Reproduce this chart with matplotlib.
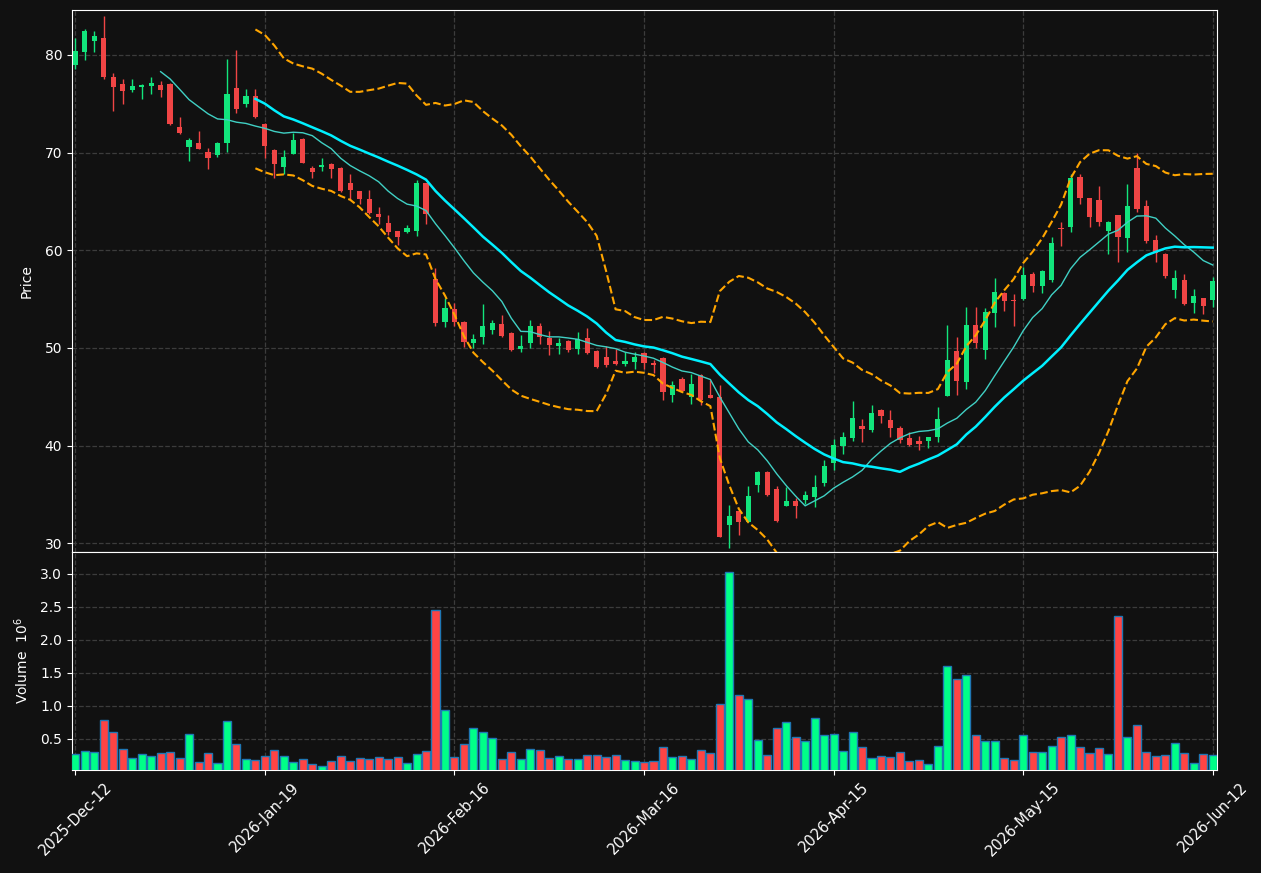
import matplotlib
matplotlib.use("Agg")
import matplotlib.pyplot as plt
import numpy as np
import pandas as pd

# daily candles, 121 sessions
opens = [79.0, 80.27, 81.47, 81.77, 77.78, 77.06, 76.45, 76.69, 76.86, 76.96,
         77.06, 72.66, 70.55, 71.02, 70.1, 69.8, 70.96, 76.66, 74.95, 75.75,
         72.96, 70.31, 68.57, 69.9, 71.43, 68.44, 68.57, 68.81, 68.47, 66.84,
         66.02, 65.2, 63.67, 62.76, 61.94, 61.84, 61.94, 66.84, 57.04, 52.7,
         53.99, 52.7, 50.55, 51.09, 51.86, 52.49, 51.57, 49.93, 50.48, 52.29,
         50.99, 50.24, 50.75, 49.93, 51.06, 49.73, 49.11, 48.7, 48.4, 48.53,
         49.52, 48.5, 49.0, 45.21, 46.85, 44.94, 47.26, 45.18, 44.97, 31.91,
         33.3, 32.22, 35.91, 37.32, 35.57, 33.86, 34.34, 34.38, 34.75, 36.12,
         38.17, 39.98, 40.8, 42.0, 41.59, 43.63, 42.61, 41.79, 40.77, 40.46,
         40.46, 40.87, 45.1, 49.68, 46.5, 52.35, 49.78, 53.61, 55.63, 54.91,
         54.97, 57.59, 56.29, 57.0, 62.24, 62.41, 67.48, 65.34, 65.14, 62.0,
         63.6, 61.29, 68.4, 64.52, 61.05, 59.63, 55.88, 56.97, 54.56, 55.07,
         54.86]
highs = [81.7, 82.7, 82.5, 84.03, 78.16, 77.58, 77.58, 77.06, 77.78, 77.37,
         77.1, 73.69, 71.5, 72.25, 70.48, 71.1, 79.62, 80.55, 76.55, 76.5,
         73.0, 70.4, 70.27, 72.0, 71.5, 68.64, 69.46, 68.9, 68.5, 67.76,
         66.1, 66.19, 64.39, 63.57, 62.0, 62.6, 67.24, 66.9, 58.23, 55.12,
         54.6, 52.75, 51.47, 54.54, 52.9, 53.41, 51.6, 51.33, 52.87, 52.59,
         51.77, 51.02, 50.8, 51.64, 52.05, 49.8, 50.24, 49.9, 49.59, 49.59,
         49.6, 48.77, 49.05, 46.62, 47.03, 47.33, 47.3, 46.75, 46.2, 33.9,
         33.35, 35.88, 37.4, 37.4, 35.81, 35.71, 34.58, 35.3, 37.0, 38.5,
         40.63, 41.38, 44.52, 42.71, 44.15, 43.7, 43.63, 42.0, 41.41, 40.97,
         40.9, 43.91, 52.35, 51.12, 54.16, 54.16, 54.06, 57.13, 55.7, 55.52,
         58.33, 57.82, 57.95, 61.33, 62.86, 67.86, 67.86, 65.4, 66.63, 62.95,
         63.65, 66.77, 70.0, 65.1, 61.53, 59.7, 57.99, 57.59, 56.02, 55.14,
         57.31]
lows = [78.6, 79.5, 80.27, 77.5, 74.23, 74.98, 76.2, 75.46, 76.0, 75.7,
        72.87, 71.9, 69.11, 70.35, 68.29, 69.52, 70.03, 74.03, 74.64, 73.5,
        69.42, 67.38, 67.82, 69.85, 68.9, 67.41, 68.1, 67.41, 65.95, 65.17,
        64.76, 63.75, 62.72, 61.56, 60.58, 61.8, 61.43, 62.72, 52.28, 52.13,
        52.29, 50.1, 50.0, 50.44, 51.43, 51.15, 49.7, 49.56, 50.0, 50.41,
        49.25, 49.35, 49.56, 49.35, 49.35, 47.95, 48.02, 48.2, 48.12, 47.85,
        47.85, 47.44, 44.63, 44.43, 45.55, 44.26, 44.12, 44.85, 30.6, 29.49,
        30.79, 32.15, 35.2, 34.8, 32.19, 33.76, 32.56, 34.03, 33.69, 35.81,
        37.49, 39.09, 40.49, 40.39, 41.41, 42.34, 40.83, 40.22, 40.0, 39.54,
        39.78, 40.32, 45.05, 45.21, 45.82, 50.02, 48.9, 52.11, 53.82, 52.28,
        54.9, 55.71, 55.61, 56.77, 60.44, 61.84, 64.73, 62.35, 62.52, 59.59,
        58.78, 59.86, 63.95, 60.71, 58.84, 57.21, 55.1, 54.4, 53.57, 53.47,
        54.2]
closes = [80.44, 82.49, 81.98, 77.71, 76.69, 76.28, 76.86, 76.96, 77.1, 76.38,
          72.97, 71.98, 71.33, 70.41, 69.49, 71.02, 76.04, 74.44, 75.84, 73.65,
          70.65, 68.81, 69.59, 71.33, 68.95, 68.06, 68.78, 68.37, 66.02, 66.22,
          65.2, 63.81, 63.37, 61.84, 61.36, 62.25, 66.84, 63.71, 52.59, 54.1,
          52.63, 50.58, 50.96, 52.29, 52.59, 51.19, 49.76, 50.24, 52.29, 51.09,
          50.34, 50.55, 49.83, 50.92, 49.52, 48.02, 48.29, 48.4, 48.7, 49.02,
          48.5, 48.22, 45.45, 46.2, 45.59, 46.34, 44.7, 44.91, 30.68, 32.8,
          32.22, 34.85, 37.32, 34.96, 32.29, 34.34, 33.86, 34.96, 35.78, 37.93,
          40.05, 40.87, 42.82, 41.69, 43.33, 43.05, 41.82, 40.56, 40.05, 40.19,
          40.87, 42.71, 48.76, 46.61, 52.35, 50.54, 53.68, 55.73, 54.84, 54.8,
          57.48, 56.29, 57.89, 60.71, 62.14, 67.45, 65.37, 63.44, 62.89, 62.89,
          61.39, 64.52, 64.22, 60.99, 59.69, 57.41, 57.18, 54.46, 55.34, 54.25,
          56.87]
# volume in millions
volumes = [0.27, 0.32, 0.30, 0.79, 0.61, 0.35, 0.21, 0.27, 0.24, 0.29,
           0.30, 0.21, 0.58, 0.15, 0.29, 0.13, 0.77, 0.42, 0.20, 0.18,
           0.24, 0.33, 0.24, 0.15, 0.20, 0.12, 0.09, 0.16, 0.24, 0.16,
           0.21, 0.20, 0.23, 0.20, 0.23, 0.13, 0.27, 0.32, 2.45, 0.94,
           0.23, 0.42, 0.66, 0.60, 0.51, 0.20, 0.30, 0.20, 0.35, 0.33,
           0.21, 0.24, 0.20, 0.20, 0.26, 0.26, 0.23, 0.26, 0.18, 0.16,
           0.15, 0.16, 0.38, 0.23, 0.24, 0.20, 0.33, 0.29, 1.03, 3.03,
           1.16, 1.11, 0.48, 0.26, 0.66, 0.76, 0.53, 0.47, 0.82, 0.56,
           0.58, 0.32, 0.61, 0.38, 0.21, 0.24, 0.23, 0.30, 0.16, 0.18,
           0.12, 0.39, 1.61, 1.41, 1.46, 0.56, 0.47, 0.47, 0.21, 0.18,
           0.56, 0.30, 0.30, 0.39, 0.52, 0.56, 0.38, 0.29, 0.36, 0.27,
           2.36, 0.52, 0.71, 0.30, 0.24, 0.26, 0.44, 0.29, 0.13, 0.27,
           0.26]
tick_index = [0, 20, 40, 60, 80, 100, 120]
tick_labels = ["2025-Dec-12", "2026-Jan-19", "2026-Feb-16", "2026-Mar-16",
               "2026-Apr-15", "2026-May-15", "2026-Jun-12"]

bg = "#111111"
up_col, down_col = "#12e57c", "#f04545"
vup_col, vdown_col = "#00ff88", "#ff4444"

df = pd.DataFrame({"Open": opens, "High": highs, "Low": lows,
                   "Close": closes, "Volume": volumes})
x = np.arange(len(df))
up = df["Close"] >= df["Open"]

ma10 = df["Close"].rolling(10).mean()
ma20 = df["Close"].rolling(20).mean()
sd20 = df["Close"].rolling(20).std(ddof=0)
upper = ma20 + 2 * sd20
lower = ma20 - 2 * sd20

plt.rcParams["font.size"] = 10
fig = plt.figure(figsize=(12.61, 8.73), dpi=100, facecolor=bg)
ax = fig.add_axes([0.0571, 0.3677, 0.9080, 0.6208], facecolor=bg)
axv = fig.add_axes([0.0571, 0.1180, 0.9080, 0.2497], facecolor=bg, sharex=ax)

# candles
body_w = 0.55
for i in x:
    c = up_col if up[i] else down_col
    ax.vlines(i, df["Low"][i], df["High"][i], color=c, linewidth=1.0, zorder=2)
    lo = min(df["Open"][i], df["Close"][i])
    h = abs(df["Close"][i] - df["Open"][i])
    ax.bar(i, max(h, 0.08), bottom=lo, width=body_w, color=c,
           linewidth=0, zorder=3)

ax.plot(x, ma10, color="#40d0c4", linewidth=1.0, zorder=4)
ax.plot(x, ma20, color="#00f0ff", linewidth=1.8, zorder=4)
ax.plot(x, upper, color="#ffa500", linewidth=1.5, linestyle="--", zorder=4)
ax.plot(x, lower, color="#ffa500", linewidth=1.5, linestyle="--", zorder=4)

ax.set_ylim(29.1, 84.6)
ax.set_xlim(-0.35, 120.45)
ax.set_ylabel("Price", color="white", labelpad=8)

# volume
vcols = [vup_col if u else vdown_col for u in up]
axv.bar(x, df["Volume"], width=0.85, color=vcols, edgecolor="#1f77b4",
        linewidth=1.0, zorder=3)
axv.set_ylim(0.3 * min(volumes), 1.1 * max(volumes))
axv.set_yticks([0.5, 1.0, 1.5, 2.0, 2.5, 3.0])
axv.set_ylabel("Volume  $10^{6}$", color="white", labelpad=7)

axv.set_xticks(tick_index)
axv.set_xticklabels(tick_labels, rotation=45, fontsize=10.6)
plt.setp(ax.get_xticklabels(), visible=False)

for a in (ax, axv):
    a.grid(True, color="#3c3c3c", linestyle="--", linewidth=0.9)
    a.set_axisbelow(True)
    a.tick_params(colors="white", labelcolor="white")
    for s in a.spines.values():
        s.set_color("white")
ax.tick_params(axis="x", length=0)

fig.savefig("out.png", dpi=100, facecolor=bg)
